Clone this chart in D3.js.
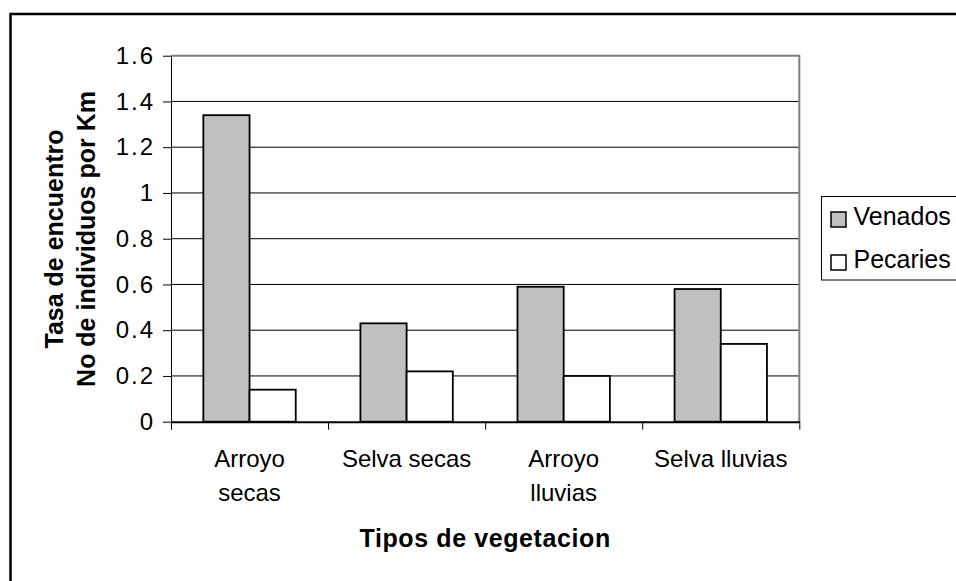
<!DOCTYPE html>
<html>
<head>
<meta charset="utf-8">
<script src="https://cdn.jsdelivr.net/npm/d3@7"></script>
<style>
body { margin: 0; background: #fff; }
svg text { font-family: "Liberation Sans", Arial, sans-serif; fill: #000; }
</style>
</head>
<body>
<div id="chart"></div>
<script>
// data
const categories = ["Arroyo secas", "Selva secas", "Arroyo lluvias", "Selva lluvias"];
const series = ["Venados", "Pecaries"];
const venados = [1.34, 0.43, 0.59, 0.58];
const pecaries = [0.14, 0.22, 0.20, 0.34];
const yTicks = [0, 0.2, 0.4, 0.6, 0.8, 1, 1.2, 1.4, 1.6];
const yTickLabels = ["0", "0.2", "0.4", "0.6", "0.8", "1", "1.2", "1.4", "1.6"];
const yTitle = ["Tasa de encuentro", "No de individuos por Km"];
const xTitle = "Tipos de vegetacion";

const fills = ["#c0c0c0", "#ffffff"];

const W = 956, H = 581;
const margin = {top: 55.7, right: 156.7, bottom: 159.3, left: 171};
const width = W - margin.left - margin.right;
const height = H - margin.top - margin.bottom;

const svg = d3.select("#chart")
    .append("svg")
    .attr("width", W)
    .attr("height", H);

// outer chart frame (runs off the right and bottom edges)
svg.append("rect")
    .attr("x", 10.5).attr("y", 14)
    .attr("width", 1000).attr("height", 1000)
    .attr("fill", "none")
    .attr("stroke", "#000")
    .attr("stroke-width", 2.5);

const g = svg.append("g")
    .attr("transform", `translate(${margin.left},${margin.top})`);

const y = d3.scaleLinear().domain([0, 1.6]).range([height, 0]);
const x0 = d3.scaleBand().domain(categories).range([0, width]).padding(0);
const x1 = d3.scaleBand().domain(series).range([0, x0.bandwidth()])
    .paddingInner(0).paddingOuter(0.7);
const xb = d3.scaleLinear().domain([0, categories.length]).range([0, width]);

// gridlines
g.append("g")
    .selectAll("line")
    .data(yTicks.filter(d => d > 0 && d < 1.6))
    .enter()
    .append("line")
    .attr("x1", 0).attr("x2", width)
    .attr("y1", d => y(d)).attr("y2", d => y(d))
    .attr("stroke", "#000")
    .attr("stroke-width", 1);

// plot area border, top and right
g.append("path")
    .attr("d", `M0,${y(1.6)}H${width}V${height}`)
    .attr("fill", "none")
    .attr("stroke", "#808080")
    .attr("stroke-width", 2);

// bars
const rows = categories.map((c, i) => ({cat: c, values: [venados[i], pecaries[i]]}));

g.selectAll(".grp")
    .data(rows)
    .enter()
    .append("g")
    .attr("transform", d => `translate(${x0(d.cat)},0)`)
    .selectAll("rect")
    .data(d => d.values.map((v, j) => ({s: series[j], v: v, j: j})))
    .enter()
    .append("rect")
    .attr("x", d => x1(d.s))
    .attr("y", d => y(d.v))
    .attr("width", x1.bandwidth())
    .attr("height", d => height - y(d.v))
    .attr("fill", d => fills[d.j])
    .attr("stroke", "#000")
    .attr("stroke-width", 1.8);

// y axis
const yAxis = g.append("g")
    .call(d3.axisLeft(y)
        .tickValues(yTicks)
        .tickSize(8)
        .tickSizeOuter(0)
        .tickPadding(8)
        .tickFormat((d, i) => yTickLabels[i]));
yAxis.attr("font-family", null).attr("font-size", 24);
yAxis.selectAll("text").style("letter-spacing", "2px");
yAxis.select(".domain").attr("stroke", "#000");

// x axis, ticks at category boundaries
const xAxis = g.append("g")
    .attr("transform", `translate(0,${height})`)
    .call(d3.axisBottom(xb)
        .tickValues(d3.range(categories.length + 1))
        .tickSize(8)
        .tickSizeOuter(0)
        .tickFormat(""));
xAxis.select(".domain").attr("stroke", "#000").attr("stroke-width", 2);

// category labels, wrapped like the original
function wrap(sel, maxW, lineH) {
    sel.each(function(d) {
        const t = d3.select(this);
        const words = d.split(" ");
        let line = [];
        let tspan = t.text(null).append("tspan").attr("x", t.attr("x"));
        words.forEach(w => {
            line.push(w);
            tspan.text(line.join(" "));
            if (tspan.node().getComputedTextLength() > maxW && line.length > 1) {
                line.pop();
                tspan.text(line.join(" "));
                line = [w];
                tspan = t.append("tspan").attr("x", t.attr("x")).attr("dy", lineH).text(w);
            }
        });
    });
}

g.append("g")
    .selectAll("text")
    .data(categories)
    .enter()
    .append("text")
    .attr("x", d => x0(d) + x0.bandwidth() / 2)
    .attr("y", height + 45.6)
    .attr("text-anchor", "middle")
    .attr("font-size", 24)
    .text(d => d)
    .call(wrap, 136, 34);

// axis titles
svg.append("text")
    .attr("transform", `translate(63,239) rotate(-90)`)
    .attr("text-anchor", "middle")
    .attr("font-size", 25)
    .attr("font-weight", "bold")
    .selectAll("tspan")
    .data(yTitle)
    .enter()
    .append("tspan")
    .attr("x", 0)
    .attr("y", (d, i) => i * 32)
    .text(d => d);

svg.append("text")
    .attr("x", margin.left + width / 2)
    .attr("y", 546.7)
    .attr("text-anchor", "middle")
    .attr("font-size", 25)
    .attr("font-weight", "bold")
    .style("letter-spacing", "0.6px")
    .text(xTitle);

// legend
const legend = svg.append("g")
    .attr("transform", "translate(821.5,196.5)");

legend.append("rect")
    .attr("width", 200).attr("height", 83.5)
    .attr("fill", "#fff")
    .attr("stroke", "#000")
    .attr("stroke-width", 1);

const items = legend.selectAll(".item")
    .data(series)
    .enter()
    .append("g")
    .attr("transform", (d, i) => `translate(0,${i * 43})`);

items.append("rect")
    .attr("x", 9.5).attr("y", 15.5)
    .attr("width", 15).attr("height", 15)
    .attr("fill", (d, i) => fills[i])
    .attr("stroke", "#000")
    .attr("stroke-width", 1.5);

items.append("text")
    .attr("x", 32)
    .attr("y", 28.5)
    .attr("font-size", 25)
    .text(d => d);
</script>
</body>
</html>
